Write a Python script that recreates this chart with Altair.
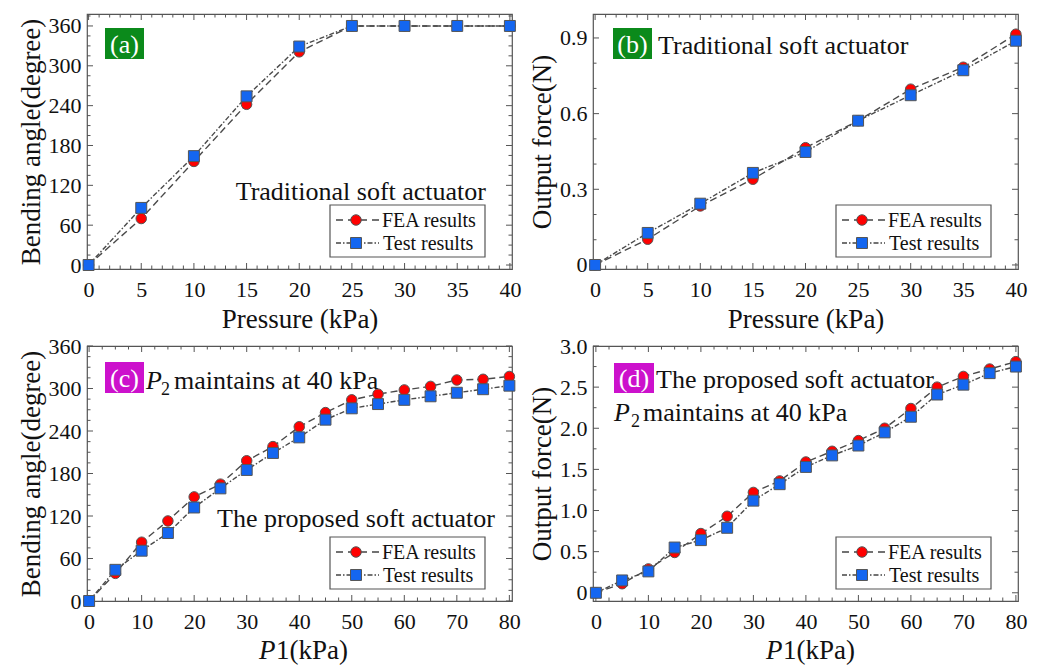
import altair as alt
import pandas as pd

FONT = "Liberation Serif"
INK = "#111111"
FRAME = "#555555"
RED = "#ff0000"
BLUE = "#1466f0"
GREEN = "#0b8a1b"
MAGENTA = "#cc11cc"

# ---------------- data ----------------
pa_x = [0, 5, 10, 15, 20, 25, 30, 35, 40]
pa_fea = [0, 70, 156, 242, 321, 360, 360, 360, 360]
pa_test = [0, 86, 164, 254, 329, 360, 360, 360, 360]

pb_x = [0, 5, 10, 15, 20, 25, 30, 35, 40]
pb_fea = [0, 0.102, 0.234, 0.340, 0.465, 0.572, 0.697, 0.784, 0.915]
pb_test = [0, 0.127, 0.243, 0.365, 0.448, 0.572, 0.673, 0.772, 0.889]

pc_x = [0, 5, 10, 15, 20, 25, 30, 35, 40, 45, 50, 55, 60, 65, 70, 75, 80]
pc_fea = [0, 39, 83, 113, 147, 165, 198, 218, 246, 266, 284, 292, 298, 303, 312, 313, 317]
pc_test = [0, 44, 71, 96, 132, 159, 185, 209, 231, 256, 272, 278, 284, 289, 294, 299, 304]

pd_x = [0, 5, 10, 15, 20, 25, 30, 35, 40, 45, 50, 55, 60, 65, 70, 75, 80]
pd_fea = [0, 0.11, 0.29, 0.49, 0.72, 0.93, 1.22, 1.36, 1.59, 1.72, 1.85, 2.00, 2.24, 2.50, 2.63, 2.72, 2.81]
pd_test = [0, 0.15, 0.26, 0.55, 0.64, 0.79, 1.12, 1.32, 1.53, 1.67, 1.79, 1.95, 2.14, 2.41, 2.53, 2.67, 2.75]

ticks_a_x = [0, 5, 10, 15, 20, 25, 30, 35, 40]
ticks_a_y = [0, 60, 120, 180, 240, 300, 360]
ticks_b_y = [0, 0.3, 0.6, 0.9]
ticks_c_x = [0, 10, 20, 30, 40, 50, 60, 70, 80]
ticks_d_y = [0, 0.5, 1.0, 1.5, 2.0, 2.5, 3.0]

W, H = 425, 255
ONE = alt.Data(values=[{"k": 1}])


def minor(lo, hi, step, majors):
    out = []
    k = 0
    while True:
        v = round(k * step, 6)
        if v > hi:
            break
        if v >= lo and all(abs(v - m) > 1e-9 for m in majors):
            out.append(v)
        k += 1
    return out


def txt(x, y, s, size=26, align="left", color=INK, style="normal", baseline="alphabetic"):
    return alt.Chart(ONE).mark_text(
        align=align, baseline=baseline, font=FONT, fontSize=size, color=color, fontStyle=style
    ).encode(x=alt.value(x), y=alt.value(y), text=alt.value(s))


def box(x1, x2, y1, y2, fill, stroke=None):
    kw = dict(fill=fill)
    if stroke:
        kw.update(stroke=stroke, strokeWidth=1.2)
    return alt.Chart(ONE).mark_rect(**kw).encode(
        x=alt.value(x1), x2=alt.value(x2), y=alt.value(y1), y2=alt.value(y2)
    )


def tag(x1, x2, y1, y2, fill, label):
    return [box(x1, x2, y1, y2, fill),
            txt((x1 + x2) / 2, (y1 + y2) / 2 + 1, label, color="white", align="center", baseline="middle")]


def legend():
    layers = [box(243, 398, 191, 243, "white", FRAME)]
    layers.append(alt.Chart(ONE).mark_rule(color="#444", strokeWidth=1.4, strokeDash=[7, 5]).encode(
        x=alt.value(249), x2=alt.value(292), y=alt.value(206)))
    layers.append(alt.Chart(ONE).mark_rule(color="#444", strokeWidth=1.4, strokeDash=[5, 2, 1.5, 2]).encode(
        x=alt.value(249), x2=alt.value(292), y=alt.value(229)))
    layers.append(alt.Chart(ONE).mark_circle(size=110, color=RED, stroke=FRAME, strokeWidth=1, opacity=1).encode(
        x=alt.value(269), y=alt.value(206)))
    layers.append(alt.Chart(ONE).mark_square(size=120, color=BLUE, stroke=FRAME, strokeWidth=1, opacity=1).encode(
        x=alt.value(269), y=alt.value(229)))
    layers.append(txt(295, 213, "FEA results", size=20))
    layers.append(txt(296, 236, "Test results", size=20))
    return layers


def panel(xs, fea, test, xdom, ydom, xticks, yticks, xstep, ystep, xtitle, ytitle, yfmt, extra):
    xs_ = alt.Scale(domain=xdom, nice=False, zero=False)
    ys_ = alt.Scale(domain=ydom, nice=False, zero=False)
    fdf = pd.DataFrame({"p": xs, "v": fea})
    tdf = pd.DataFrame({"p": xs, "v": test})

    xaxis = dict(values=xticks, labelFlush=False, labelOverlap=False, labelPadding=10,
                 titlePadding=6, format="d", title=xtitle)
    yaxis = dict(values=yticks, labelFlush=False, labelOverlap=False, labelPadding=6,
                 titlePadding=3, title=ytitle)
    if yfmt:
        yaxis["labelExpr"] = "datum.value == 0 ? '0' : format(datum.value, '.1f')"
    else:
        yaxis["format"] = "d"

    def X(f):
        return alt.X(f, scale=xs_, axis=alt.Axis(**xaxis))

    def Y(f):
        return alt.Y(f, scale=ys_, axis=alt.Axis(**yaxis))

    line_f = alt.Chart(fdf).mark_line(color="#4a4a4a", strokeWidth=1.4, strokeDash=[7, 4]).encode(
        x=X("p:Q"), y=Y("v:Q"))
    line_t = alt.Chart(tdf).mark_line(color="#4a4a4a", strokeWidth=1.4, strokeDash=[5, 2, 1.5, 2]).encode(
        x=X("p:Q"), y=Y("v:Q"))
    pts_f = alt.Chart(fdf).mark_circle(size=110, color=RED, stroke=FRAME, strokeWidth=1, opacity=1).encode(
        x=X("p:Q"), y=Y("v:Q"))
    pts_t = alt.Chart(tdf).mark_square(size=120, color=BLUE, stroke=FRAME, strokeWidth=1, opacity=1).encode(
        x=X("p:Q"), y=Y("v:Q"))

    tick_layers = []
    xmin = minor(xdom[0], xdom[1], xstep, xticks)
    ymin = minor(ydom[0], ydom[1], ystep, yticks)
    for vals, ln in ((xticks, 6), (xmin, 3.5)):
        d = pd.DataFrame({"p": vals})
        tick_layers.append(alt.Chart(d).mark_rule(color=FRAME, strokeWidth=1).encode(
            x=X("p:Q"), y=alt.value(H), y2=alt.value(H - ln)))
        tick_layers.append(alt.Chart(d).mark_rule(color=FRAME, strokeWidth=1).encode(
            x=X("p:Q"), y=alt.value(0), y2=alt.value(ln)))
    for vals, ln in ((yticks, 6), (ymin, 3.5)):
        d = pd.DataFrame({"v": vals})
        tick_layers.append(alt.Chart(d).mark_rule(color=FRAME, strokeWidth=1).encode(
            y=Y("v:Q"), x=alt.value(0), x2=alt.value(ln)))
        tick_layers.append(alt.Chart(d).mark_rule(color=FRAME, strokeWidth=1).encode(
            y=Y("v:Q"), x=alt.value(W), x2=alt.value(W - ln)))

    layers = [line_f] + tick_layers + [line_t, pts_f, pts_t] + legend() + extra
    return alt.layer(*layers).properties(width=W, height=H)


extra_a = tag(18, 57, 14, 45, GREEN, "(a)") + [txt(399, 186, "Traditional soft actuator", align="right")]
extra_b = tag(20, 59, 14, 45, GREEN, "(b)") + [txt(65, 40, "Traditional soft actuator")]
extra_c = tag(18, 57, 16, 47, MAGENTA, "(c)") + [
    txt(59, 43, "P", style="italic"),
    txt(74, 49, "2", size=18),
    txt(87, 43, "maintains at 40 kPa"),
    txt(408, 181, "The proposed soft actuator", align="right"),
    txt(172, 313, "P", size=27, style="italic"),
    txt(189, 313, "1(kPa)", size=27),
]
extra_d = tag(21, 61, 17, 47, MAGENTA, "(d)") + [
    txt(63, 42, "The proposed soft actuator"),
    txt(21, 75, "P", style="italic"),
    txt(38, 81, "2", size=18),
    txt(50, 75, "maintains at 40 kPa"),
    txt(173, 313, "P", size=27, style="italic"),
    txt(190, 313, "1(kPa)", size=27),
]

A = panel(pa_x, pa_fea, pa_test, [-0.15, 40.2], [-6, 378], ticks_a_x, ticks_a_y, 1, 15,
          "Pressure (kPa)", "Bending angle(degree)", False, extra_a)
B = panel(pb_x, pb_fea, pb_test, [-0.2, 40.2], [-0.016, 0.995], ticks_a_x, ticks_b_y, 1, 0.1,
          "Pressure (kPa)", "Output force(N)", True, extra_b)
C = panel(pc_x, pc_fea, pc_test, [-0.4, 80.5], [0, 360], ticks_c_x, ticks_a_y, 2.5, 15,
          None, "Bending angle(degree)", False, extra_c)
D = panel(pd_x, pd_fea, pd_test, [-0.55, 80.4], [-0.1, 3.0], ticks_c_x, ticks_d_y, 2.5, 0.25,
          None, "Output force(N)", True, extra_d)

chart = alt.concat(
    A, B, C, D, columns=2, spacing={"row": 77, "column": 81}, bounds="flush",
).properties(
    padding={"left": 16, "top": 12, "right": 0, "bottom": 0},
    background="white",
).configure_view(
    stroke=FRAME, strokeWidth=1.2
).configure_axis(
    labelFont=FONT, labelFontSize=22, labelColor=INK,
    titleFont=FONT, titleFontSize=27, titleFontWeight="normal", titleColor=INK,
    ticks=False, tickSize=0, domain=False, grid=False,
)

chart.save("out.html", embed_options={"renderer": "svg", "actions": False})
